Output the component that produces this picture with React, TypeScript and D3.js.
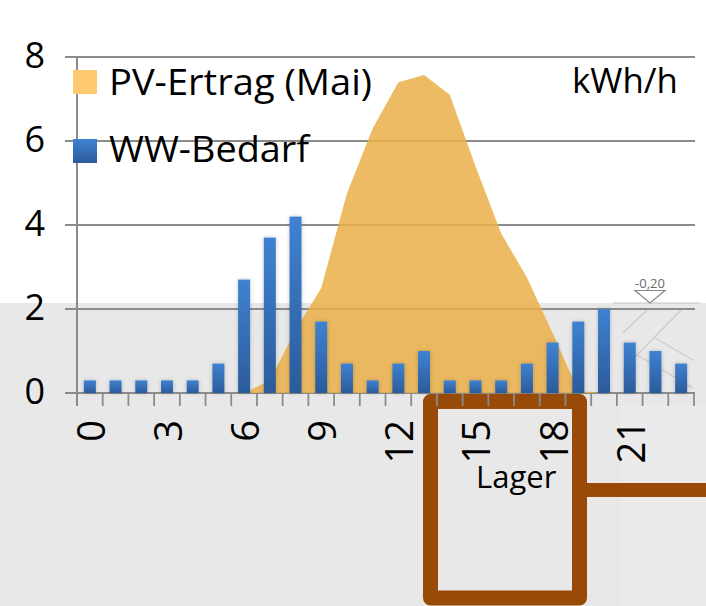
import React from "react";
import * as d3 from "d3";

const hours = [0, 1, 2, 3, 4, 5, 6, 7, 8, 9, 10, 11, 12, 13, 14, 15, 16, 17, 18, 19, 20, 21, 22, 23];
const pvErtrag = [0, 0, 0, 0, 0, 0, 0, 0.3, 1.5, 2.5, 4.75, 6.3, 7.4, 7.57, 7.1, 5.4, 3.8, 2.75, 1.43, 0.05, 0, 0, 0, 0];
const wwBedarf = [0.3, 0.3, 0.3, 0.3, 0.3, 0.7, 2.7, 3.7, 4.2, 1.7, 0.7, 0.3, 0.7, 1.0, 0.3, 0.3, 0.3, 0.7, 1.2, 1.7, 2.0, 1.2, 1.0, 0.7];
const xTickLabels = ["0", "3", "6", "9", "12", "15", "18", "21"];
const yTicks = [0, 2, 4, 6, 8];
const seriesNames = ["PV-Ertrag (Mai)", "WW-Bedarf"];
const unitLabel = "kWh/h";
const boxLabel = "Lager";
const levelLabel = "-0,20";

const W = 706;
const H = 606;
const FONT = "'Open Sans', 'Noto Sans', sans-serif";

export default function App() {
  const x = d3.scaleBand<number>().domain(hours).range([77, 694]).paddingInner(0).paddingOuter(0);
  const y = d3.scaleLinear().domain([0, 8]).range([393, 57]);
  const cx = (h: number) => (x(h) as number) + x.bandwidth() / 2;
  const barW = 12;

  const area = d3
    .area<number>()
    .x((_, i) => cx(hours[i]))
    .y0(y(0))
    .y1((d) => y(d));

  const gridColor = "#8b8b8b";

  return (
    <svg
      width={W}
      height={H}
      style={{ position: "absolute", left: 0, top: 0 }}
      xmlns="http://www.w3.org/2000/svg"
    >
      <defs>
        <linearGradient id="barGrad" x1="0" y1="0" x2="0" y2="1">
          <stop offset="0%" stopColor="#3f82d1" />
          <stop offset="100%" stopColor="#2b5b9b" />
        </linearGradient>
        <filter id="glow" x="-60%" y="-20%" width="220%" height="140%">
          <feGaussianBlur in="SourceAlpha" stdDeviation="2.2" />
          <feComponentTransfer>
            <feFuncA type="linear" slope="0.22" />
          </feComponentTransfer>
          <feMerge>
            <feMergeNode />
            <feMergeNode in="SourceGraphic" />
          </feMerge>
        </filter>
      </defs>

      {/* background */}
      <rect x={0} y={0} width={W} height={H} fill="#ffffff" />
      <rect x={0} y={303} width={W} height={H - 303} fill="#e8e8e8" />
      <rect x={621} y={406} width={W - 621} height={H - 406} fill="#ebebeb" />

      {/* level mark */}
      <line x1={613} x2={700} y1={303} y2={303} stroke="#c4c4c4" strokeWidth={1.2} />
      <path d="M635,290.5 L665,290.5 L650,303 Z" fill="none" stroke="#8a8a8a" strokeWidth={1.2} />
      <text x={650} y={288} fontFamily={FONT} fontSize={13} fill="#6a6a6a" textAnchor="middle">
        {levelLabel}
      </text>
      <g stroke="#cacaca" strokeWidth={1.2}>
        <line x1={623} y1={333} x2={647} y2={310} />
        <line x1={635} y1={357} x2={682} y2={309} />
        <line x1={655} y1={338} x2={693} y2={360} />
        <line x1={637} y1={355} x2={693} y2={388} />
      </g>

      {/* storage box */}
      <path
        d="M430.5,401.5 L579.5,401.5 L579.5,598 L430.5,598 Z"
        fill="none"
        stroke="#994a07"
        strokeWidth={15}
        strokeLinejoin="round"
      />
      <line x1={580} x2={W} y1={490} y2={490} stroke="#994a07" strokeWidth={14} />
      <text x={476} y={488} fontFamily={FONT} fontSize={31} fill="#000">
        {boxLabel}
      </text>

      {/* gridlines */}
      {yTicks.map((v) => (
        <line key={v} x1={65} x2={695} y1={y(v)} y2={y(v)} stroke={gridColor} strokeWidth={2} />
      ))}

      {/* PV area */}
      <path d={area(pvErtrag) || ""} fill="rgb(234,175,72)" fillOpacity={0.85} />

      {/* WW bars */}
      <g filter="url(#glow)">
        {wwBedarf.map((v, i) => (
          <rect
            key={i}
            x={cx(hours[i]) - barW / 2}
            y={y(v)}
            width={barW}
            height={y(0) - y(v)}
            fill="url(#barGrad)"
          />
        ))}
      </g>

      {/* axes */}
      <line x1={77} x2={77} y1={57} y2={406} stroke={gridColor} strokeWidth={2} />
      {hours.concat([24]).map((h) => {
        const xx = 77 + h * x.step();
        return <line key={h} x1={xx} x2={xx} y1={393} y2={406} stroke={gridColor} strokeWidth={1.8} />;
      })}

      {/* y labels */}
      {yTicks.map((v) => (
        <text key={v} x={45} y={y(v) + 11} fontFamily={FONT} fontSize={36} textAnchor="end" fill="#000">
          {v}
        </text>
      ))}

      {/* x labels */}
      {xTickLabels.map((t) => {
        const h = +t;
        return (
          <text
            key={t}
            transform={`translate(${cx(h) + 15},420) rotate(-90)`}
            fontFamily={FONT}
            fontSize={38}
            textAnchor="end"
            fill="#000"
          >
            {t}
          </text>
        );
      })}

      {/* legend */}
      <rect x={73} y={70} width={24} height={24} fill="#fdca72" />
      <text x={109} y={95} fontFamily={FONT} fontSize={37} fill="#000" textLength={263} lengthAdjust="spacingAndGlyphs">
        {seriesNames[0]}
      </text>
      <rect x={73} y={139} width={24} height={24} fill="url(#barGrad)" />
      <text x={109} y={162} fontFamily={FONT} fontSize={37} fill="#000" textLength={200} lengthAdjust="spacingAndGlyphs">
        {seriesNames[1]}
      </text>

      <text x={572} y={93} fontFamily={FONT} fontSize={35} fill="#000" textLength={106} lengthAdjust="spacingAndGlyphs">
        {unitLabel}
      </text>
    </svg>
  );
}
